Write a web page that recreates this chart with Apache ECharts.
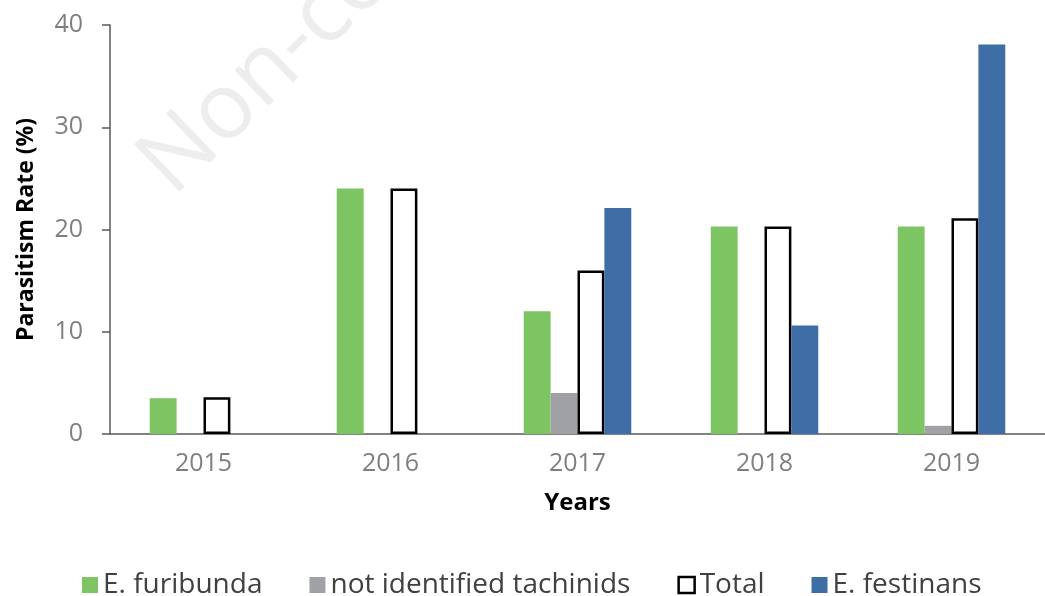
<!DOCTYPE html>
<html>
<head>
<meta charset="utf-8">
<script src="https://cdn.jsdelivr.net/npm/echarts@6/dist/echarts.min.js"></script>
<style>html,body{margin:0;padding:0;background:#fff}#c{width:1045px;height:596px}</style>
</head>
<body>
<div id="c"></div>
<script>
const years = ['2015', '2016', '2017', '2018', '2019'];
const furibunda = [3.5, 24, 12, 20.3, 20.3];
const notIdentified = [null, null, 4, null, 0.8];
const total = [3.6, 24, 16, 20.3, 21.1];
const festinans = [null, null, 22.1, 10.6, 38.1];
const yTicks = [0, 10, 20, 30, 40];

const chart = echarts.init(document.getElementById('c'), null, {renderer: 'canvas'});
const font = '"Open Sans", sans-serif';
chart.setOption({
  backgroundColor: '#fff',
  animation: false,
  graphic: [{
    type: 'text', x: 187, y: 212, rotation: 44 * Math.PI / 180, z: -10,
    style: {text: 'Non-commercial use only', fontSize: 92, fontFamily: font, fill: '#ededed', textAlign: 'left', textVerticalAlign: 'bottom'}
  }],
  grid: {left: 110, right: -5, top: 25, bottom: 162, containLabel: false},
  legend: {
    top: 571, left: 82, padding: 0,
    itemWidth: 16, itemHeight: 16, itemGap: 47,
    textStyle: {fontSize: 28, color: '#404040', fontFamily: font},
    data: [
      {name: 'E. furibunda', icon: 'rect'},
      {name: 'not identified tachinids', icon: 'rect'},
      {name: 'Total', icon: 'rect', itemStyle: {color: '#fff', borderColor: '#000', borderWidth: 2.5}},
      {name: 'E. festinans', icon: 'rect'}
    ]
  },
  xAxis: {
    type: 'category', data: years,
    name: 'Years', nameLocation: 'middle', nameGap: 57,
    nameTextStyle: {fontSize: 24, fontWeight: 'bold', color: '#000', fontFamily: font},
    axisLine: {lineStyle: {color: '#595959', width: 1.5}},
    axisTick: {show: false},
    axisLabel: {fontSize: 25, color: '#7f7f7f', margin: 17, fontFamily: font}
  },
  yAxis: {
    type: 'value', min: yTicks[0], max: yTicks[yTicks.length - 1], interval: 10,
    name: 'Parasitism Rate (%)', nameLocation: 'middle', nameGap: 72,
    nameTextStyle: {fontSize: 23, fontWeight: 'bold', color: '#000', fontFamily: font},
    axisLine: {show: true, lineStyle: {color: '#595959', width: 1.5}},
    axisTick: {show: true, length: 8, lineStyle: {color: '#595959', width: 1.5}},
    splitLine: {show: false},
    axisLabel: {fontSize: 25, color: '#7f7f7f', margin: 27, fontFamily: font}
  },
  series: [
    {name: 'E. furibunda', type: 'bar', data: furibunda, barGap: '0%', barCategoryGap: '42.5%', itemStyle: {color: '#7dc462'}},
    {name: 'not identified tachinids', type: 'bar', data: notIdentified, itemStyle: {color: '#a0a1a5'}},
    {name: 'Total', type: 'bar', data: total, itemStyle: {color: '#fff', borderColor: '#000', borderWidth: 2.5}},
    {name: 'E. festinans', type: 'bar', data: festinans, itemStyle: {color: '#3f6ea6'}}
  ]
});
</script>
</body>
</html>
